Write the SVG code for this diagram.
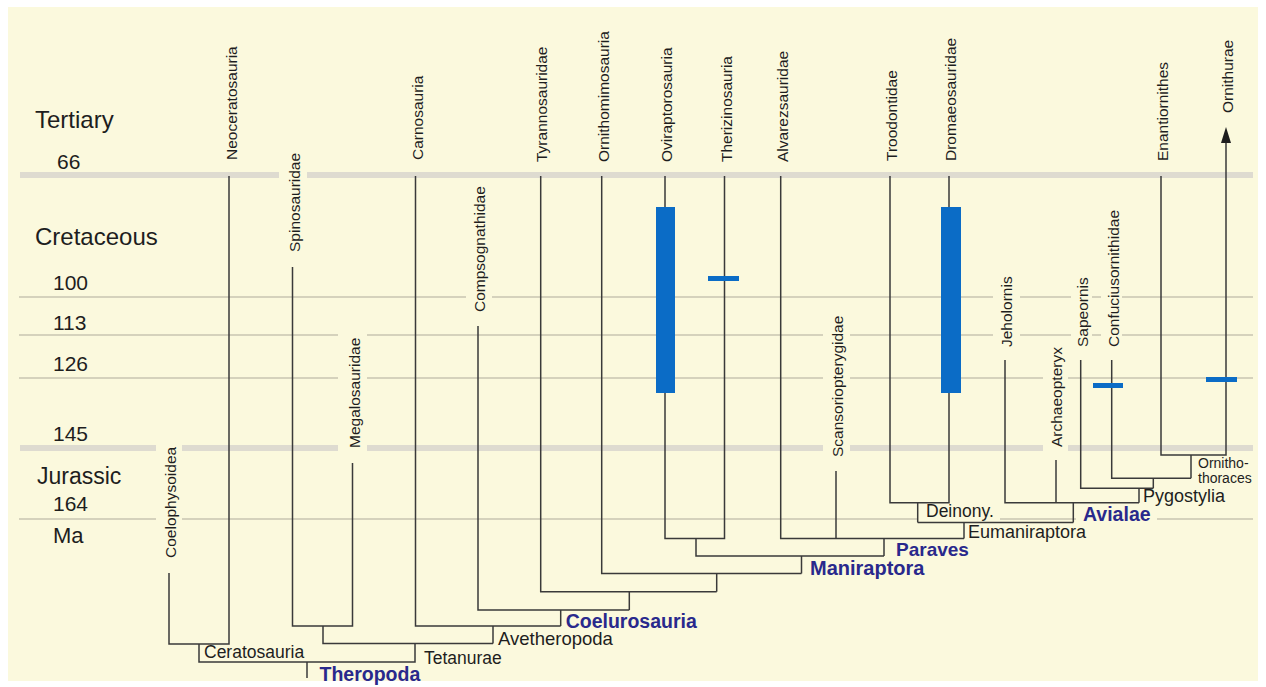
<svg xmlns="http://www.w3.org/2000/svg" width="1266" height="687" viewBox="0 0 1266 687">
<defs>
<style>
.bg{fill:#fbf9dd}
.grid{stroke:#c9c4b0;stroke-width:1.5;fill:none}
.gridthick{stroke:#dedbd0;stroke-width:6;fill:none}
.mask{fill:#fbf9dd}
.period{font-family:"Liberation Sans",Arial,sans-serif;font-size:24px;fill:#1e1e1e}
.num{font-family:"Liberation Sans",Arial,sans-serif;font-size:21px;fill:#1e1e1e}
.taxon{font-family:"Liberation Sans",Arial,sans-serif;font-size:15.5px;fill:#1e1e1e}
.node{font-family:"Liberation Sans",Arial,sans-serif;font-size:17.5px;fill:#1e1e1e}
.small{font-family:"Liberation Sans",Arial,sans-serif;font-size:14px;fill:#1e1e1e}
.clade{font-family:"Liberation Sans",Arial,sans-serif;font-size:19.5px;font-weight:bold;fill:#29298c}
.conn{stroke:#3a3a3a;stroke-width:1.5;fill:none}
.bar{fill:#0b6cc6}
</style>
<marker id="arrow" markerUnits="userSpaceOnUse" viewBox="0 0 16 10" refX="11" refY="5" markerWidth="16" markerHeight="10" orient="auto">
<path d="M0,0 L16,5 L0,10 z" fill="#1e1e1e"/>
</marker>
</defs>
<rect x="0" y="0" width="1266" height="687" fill="#ffffff"/>
<rect class="bg" x="8" y="7" width="1250" height="674"/>

<g id="timescale">
<line class="gridthick" x1="20" y1="175" x2="1253" y2="175"/>
<line class="grid" x1="19" y1="297" x2="1253" y2="297"/>
<line class="grid" x1="19" y1="335" x2="1253" y2="335"/>
<line class="grid" x1="19" y1="378" x2="1253" y2="378"/>
<line class="gridthick" x1="20" y1="448" x2="1253" y2="448"/>
<line class="grid" x1="19" y1="519" x2="1253" y2="519"/>
<text class="period" x="35" y="128">Tertiary</text>
<text class="num" x="57" y="169">66</text>
<text class="period" x="35" y="245">Cretaceous</text>
<text class="num" x="53" y="290">100</text>
<text class="num" x="53" y="330">113</text>
<text class="num" x="53" y="371">126</text>
<text class="num" x="53" y="441">145</text>
<text class="period" x="37" y="484" style="font-size:23px">Jurassic</text>
<text class="num" x="53" y="511">164</text>
<text class="period" x="53" y="543" style="font-size:22px">Ma</text>
</g>

<g id="label-masks">
<rect class="mask" x="279" y="148" width="28" height="108"/>
<rect class="mask" x="466" y="183" width="26" height="132"/>
<rect class="mask" x="338" y="333" width="29" height="118"/>
<rect class="mask" x="823" y="312" width="27" height="148"/>
<rect class="mask" x="156" y="444" width="26" height="118"/>
<rect class="mask" x="993" y="273" width="27" height="77"/>
<rect class="mask" x="1043" y="343" width="25" height="108"/>
<rect class="mask" x="1071" y="273" width="21" height="77"/>
<rect class="mask" x="1101" y="203" width="21" height="147"/>
<rect class="mask" x="917" y="504" width="83" height="18"/>
<rect class="mask" x="1076" y="505" width="81" height="19"/>
</g>

<g id="connectors">
<path class="conn" d="M169,573 V644 H229 V176"/>
<path class="conn" d="M199,644 V662 H415 V644"/>
<path class="conn" d="M307,662 V678"/>
<path class="conn" d="M292.5,267 V626 H352.5 V463"/>
<path class="conn" d="M323,626 V643.5 H493"/>
<path class="conn" d="M415.5,176 V626 H560.7"/>
<path class="conn" d="M493,626 V643.5"/>
<path class="conn" d="M478,326 V610 H629.3"/>
<path class="conn" d="M560.7,610 V626"/>
<path class="conn" d="M540.7,176 V591.7 H716.7"/>
<path class="conn" d="M629.3,591.7 V610"/>
<path class="conn" d="M601.7,176 V573.5 H801.5"/>
<path class="conn" d="M716.7,573.5 V591.7"/>
<path class="conn" d="M665,176 V538.5 H724.5 V176"/>
<path class="conn" d="M696,538.5 V556 H884"/>
<path class="conn" d="M801.5,556 V573.5"/>
<path class="conn" d="M780.7,176 V538.5 H964"/>
<path class="conn" d="M836,471 V538.5"/>
<path class="conn" d="M884,538.5 V556"/>
<path class="conn" d="M964,522.5 V538.5"/>
<path class="conn" d="M917.7,522.5 H1073.3"/>
<path class="conn" d="M890,176 V502.7 H949 V176"/>
<path class="conn" d="M917.7,502.7 V522.5"/>
<path class="conn" d="M1005,360 V502.7 H1139"/>
<path class="conn" d="M1056,460 V502.7"/>
<path class="conn" d="M1073.3,502.7 V522.5"/>
<path class="conn" d="M1080.7,360 V488.3 H1153.3"/>
<path class="conn" d="M1139,488.3 V502.7"/>
<path class="conn" d="M1111.7,360 V478.3 H1191"/>
<path class="conn" d="M1153.3,478.3 V488.3"/>
<path class="conn" d="M1161,176 V455 H1226 V132" marker-end="url(#arrow)"/>
<path class="conn" d="M1191,455 V478.3"/>
</g>

<g id="ranges">
<rect class="bar" x="656" y="207" width="19" height="186"/>
<rect class="bar" x="708" y="276" width="31" height="5"/>
<rect class="bar" x="941" y="207" width="20" height="186"/>
<rect class="bar" x="1093" y="383" width="30" height="5"/>
<rect class="bar" x="1206" y="377" width="31" height="5"/>
</g>

<g id="node-Neoceratosauria"><text class="taxon" transform="translate(237,160) rotate(-90)">Neoceratosauria</text></g>
<g id="node-Spinosauridae"><text class="taxon" transform="translate(299.5,252) rotate(-90)">Spinosauridae</text></g>
<g id="node-Carnosauria"><text class="taxon" transform="translate(422.5,160) rotate(-90)">Carnosauria</text></g>
<g id="node-Compsognathidae"><text class="taxon" transform="translate(485,312) rotate(-90)">Compsognathidae</text></g>
<g id="node-Tyrannosauridae"><text class="taxon" transform="translate(547,162) rotate(-90)">Tyrannosauridae</text></g>
<g id="node-Ornithomimosauria"><text class="taxon" transform="translate(609,162) rotate(-90)">Ornithomimosauria</text></g>
<g id="node-Oviraptorosauria"><text class="taxon" transform="translate(672,162) rotate(-90)">Oviraptorosauria</text></g>
<g id="node-Therizinosauria"><text class="taxon" transform="translate(731.5,162) rotate(-90)">Therizinosauria</text></g>
<g id="node-Alvarezsauridae"><text class="taxon" transform="translate(787.7,162) rotate(-90)">Alvarezsauridae</text></g>
<g id="node-Troodontidae"><text class="taxon" transform="translate(897,161) rotate(-90)">Troodontidae</text></g>
<g id="node-Dromaeosauridae"><text class="taxon" transform="translate(956,161) rotate(-90)">Dromaeosauridae</text></g>
<g id="node-Enantiornithes"><text class="taxon" transform="translate(1168,161) rotate(-90)">Enantiornithes</text></g>
<g id="node-Ornithurae"><text class="taxon" transform="translate(1233,113) rotate(-90)">Ornithurae</text></g>
<g id="node-Coelophysoidea"><text class="taxon" transform="translate(176,558) rotate(-90)">Coelophysoidea</text></g>
<g id="node-Megalosauridae"><text class="taxon" transform="translate(359.5,448) rotate(-90)">Megalosauridae</text></g>
<g id="node-Scansoriopterygidae"><text class="taxon" transform="translate(843,457) rotate(-90)">Scansoriopterygidae</text></g>
<g id="node-Jeholornis"><text class="taxon" transform="translate(1012,347) rotate(-90)">Jeholornis</text></g>
<g id="node-Archaeopteryx"><text class="taxon" transform="translate(1062,447) rotate(-90)">Archaeopteryx</text></g>
<g id="node-Sapeornis"><text class="taxon" transform="translate(1087.5,347) rotate(-90)">Sapeornis</text></g>
<g id="node-Confuciusornithidae"><text class="taxon" transform="translate(1118.5,347) rotate(-90)">Confuciusornithidae</text></g>

<g id="node-Ceratosauria"><text class="node" x="204" y="658">Ceratosauria</text></g>
<g id="node-Tetanurae"><text class="node" x="424" y="664">Tetanurae</text></g>
<g id="node-Avetheropoda"><text class="node" x="498" y="645" style="font-size:18.5px">Avetheropoda</text></g>
<g id="node-Eumaniraptora"><text class="node" x="968" y="538" style="font-size:18px">Eumaniraptora</text></g>
<g id="node-Deinony"><text class="node" x="926" y="517">Deinony.</text></g>
<g id="node-Pygostylia"><text class="node" x="1143" y="502" style="font-size:18px">Pygostylia</text></g>
<g id="node-Ornithothoraces"><text class="small" x="1198" y="468">Ornitho-</text><text class="small" x="1198" y="483">thoraces</text></g>

<g id="node-Theropoda"><text class="clade" x="319.5" y="681">Theropoda</text></g>
<g id="node-Coelurosauria"><text class="clade" x="565.7" y="628">Coelurosauria</text></g>
<g id="node-Maniraptora"><text class="clade" x="810" y="575" style="font-size:20px">Maniraptora</text></g>
<g id="node-Paraves"><text class="clade" x="896" y="556" style="font-size:19px">Paraves</text></g>
<g id="node-Avialae"><text class="clade" x="1083" y="521">Avialae</text></g>
</svg>
